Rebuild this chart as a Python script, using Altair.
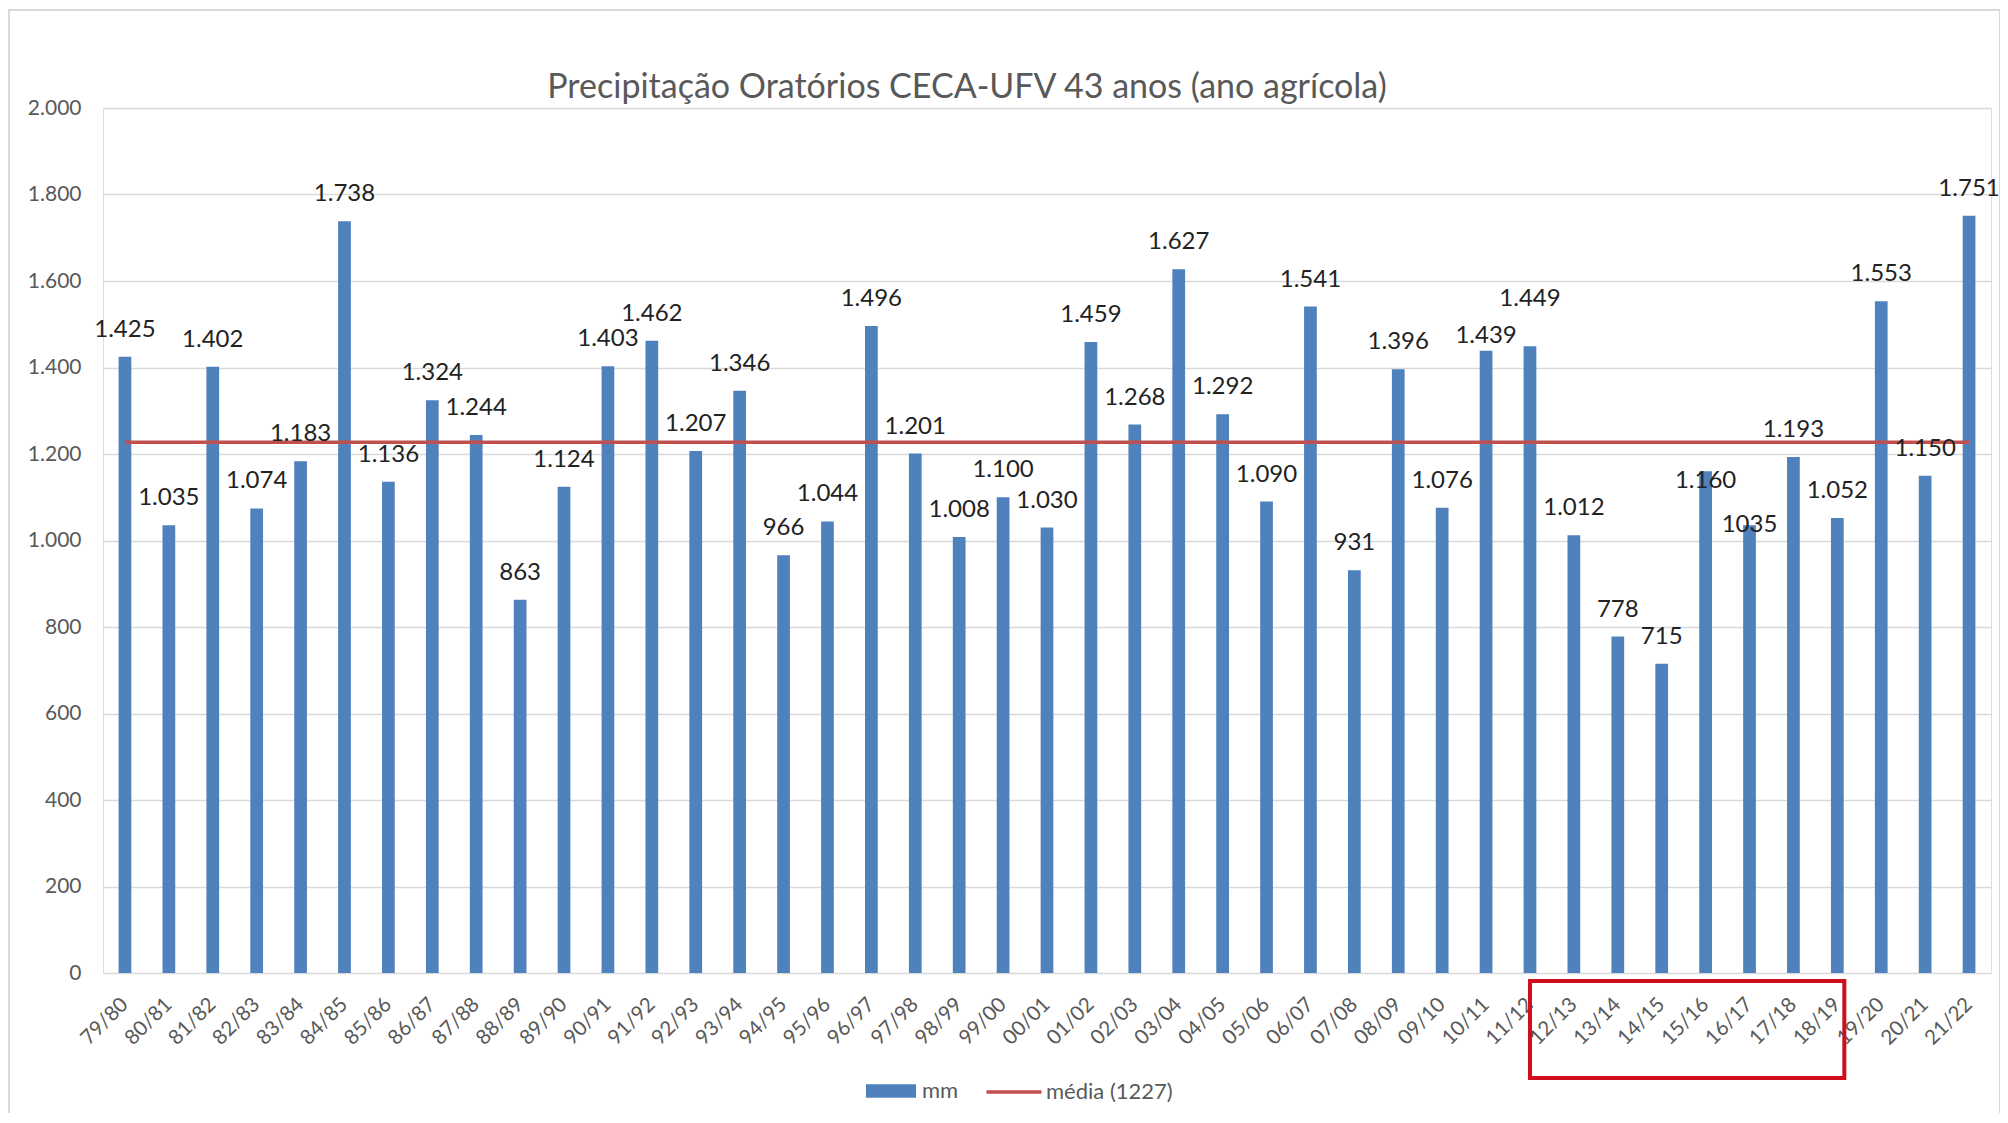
import altair as alt
import pandas as pd

# ---------------- data ----------------
SEASONS = ["79/80", "80/81", "81/82", "82/83", "83/84", "84/85", "85/86", "86/87",
           "87/88", "88/89", "89/90", "90/91", "91/92", "92/93", "93/94", "94/95",
           "95/96", "96/97", "97/98", "98/99", "99/00", "00/01", "01/02", "02/03",
           "03/04", "04/05", "05/06", "06/07", "07/08", "08/09", "09/10", "10/11",
           "11/12", "12/13", "13/14", "14/15", "15/16", "16/17", "17/18", "18/19",
           "19/20", "20/21", "21/22"]
MM = [1425, 1035, 1402, 1074, 1183, 1738, 1136, 1324,
      1244, 863, 1124, 1403, 1462, 1207, 1346, 966,
      1044, 1496, 1201, 1008, 1100, 1030, 1459, 1268,
      1627, 1292, 1090, 1541, 931, 1396, 1076, 1439,
      1449, 1012, 778, 715, 1160, 1035, 1193, 1052,
      1553, 1150, 1751]
LABELS = ["1.425", "1.035", "1.402", "1.074", "1.183", "1.738", "1.136", "1.324",
          "1.244", "863", "1.124", "1.403", "1.462", "1.207", "1.346", "966",
          "1.044", "1.496", "1.201", "1.008", "1.100", "1.030", "1.459", "1.268",
          "1.627", "1.292", "1.090", "1.541", "931", "1.396", "1.076", "1.439",
          "1.449", "1.012", "778", "715", "1.160", "1035", "1.193", "1.052",
          "1.553", "1.150", "1.751"]
MEDIA = 1227
Y_TICKS = [0, 200, 400, 600, 800, 1000, 1200, 1400, 1600, 1800, 2000]
SERIES_BAR = "mm"
SERIES_LINE = f"média ({MEDIA})"
TITLE = "Precipitação Oratórios CECA-UFV 43 anos (ano agrícola)"
BOX_FROM = "12/13"
BOX_TO = "18/19"

# ---------------- style ----------------
W, H = 1888, 865
BLUE = "#4F81BD"
RED = "#C0504D"
BOX_RED = "#D10F1C"
GRAY_TXT = "#595959"
GRID = "#D9D9D9"
FONT = "Lato"
LABEL_DY_DEFAULT = -20
# labels that were moved by hand in the original chart (vertical offset, px)
LABEL_DY_MOVED = {"10/11": -8, "11/12": -40, "15/16": 17, "16/17": 7}

df_bar = pd.DataFrame({"ano": SEASONS, "mm": MM, "rotulo": LABELS, "serie": SERIES_BAR})
df_line = pd.DataFrame({"ano": SEASONS, "media": [MEDIA] * len(SEASONS), "serie": SERIES_LINE})
df_box = pd.DataFrame({"de": [BOX_FROM], "ate": [BOX_TO]})
df_one = pd.DataFrame({"k": [0]})

x_scale = alt.Scale(domain=SEASONS, paddingInner=0.71, paddingOuter=0.355)
y_scale = alt.Scale(domain=[0, 2000], nice=False)

x_axis = alt.Axis(title=None, labelAngle=-45, labelAlign="right", labelBaseline="middle",
                  labelPadding=28, ticks=False, tickSize=0, domain=False, grid=False,
                  labelOverlap=False, labelFont=FONT, labelFontSize=20.5, labelColor=GRAY_TXT)
y_axis = alt.Axis(title=None, values=Y_TICKS,
                  labelExpr="replace(format(datum.value, ','), ',', '.')",
                  ticks=False, tickSize=0, domain=False, grid=True, gridColor=GRID,
                  gridWidth=1.5, labelPadding=22, labelFont=FONT, labelFontSize=21,
                  labelColor=GRAY_TXT)

leg_common = dict(title=None, orient="none", direction="horizontal", symbolSize=2500,
                  labelFont=FONT, labelFontSize=22, labelColor=GRAY_TXT, labelOffset=5)
legend_bar = alt.Legend(legendX=762, legendY=957, symbolType="M-1,-0.27H1V0.27H-1Z",
                        **leg_common)
legend_line = alt.Legend(legendX=884, legendY=957, symbolType="M-1.1,0H1.1",
                         symbolStrokeWidth=3.5, **leg_common)

x_enc = alt.X("ano:N", scale=x_scale, axis=x_axis, sort=None)

bars = alt.Chart(df_bar).mark_bar().encode(
    x=x_enc,
    y=alt.Y("mm:Q", scale=y_scale, axis=y_axis),
    fill=alt.Fill("serie:N", scale=alt.Scale(domain=[SERIES_BAR], range=[BLUE]),
                  legend=legend_bar),
)

line = alt.Chart(df_line).mark_line(strokeWidth=3.6).encode(
    x=alt.X("ano:N", sort=None),
    y=alt.Y("media:Q"),
    stroke=alt.Stroke("serie:N", scale=alt.Scale(domain=[SERIES_LINE], range=[RED]),
                      legend=legend_line),
)


def label_layer(dy, flt):
    return alt.Chart(df_bar).transform_filter(flt).mark_text(
        dy=dy, baseline="alphabetic", font=FONT, fontSize=24, color="#222222"
    ).encode(
        x=alt.X("ano:N", sort=None),
        y=alt.Y("mm:Q"),
        text=alt.Text("rotulo:N"),
    )


moved = list(LABEL_DY_MOVED.keys())
label_layers = [label_layer(LABEL_DY_DEFAULT,
                            alt.FieldOneOfPredicate(field="ano", oneOf=[s for s in SEASONS if s not in moved]))]
for season, dy in LABEL_DY_MOVED.items():
    label_layers.append(label_layer(dy, alt.FieldEqualPredicate(field="ano", equal=season)))

step = W / len(SEASONS)
box = alt.Chart(df_box).mark_rect(
    fill="transparent", stroke=BOX_RED, strokeWidth=4,
    xOffset=-step, x2Offset=7,
).encode(
    x=alt.X("de:N", bandPosition=0.5),
    x2=alt.X2("ate", bandPosition=0.5),
    y=alt.value(H + 8),
    y2=alt.value(H + 105),
)

frame = alt.Chart(df_one).mark_rect(fill="transparent", stroke=GRID, strokeWidth=2).encode(
    x=alt.value(-94), x2=alt.value(W + 9), y=alt.value(-98), y2=alt.value(H + 200),
)

chart = alt.layer(frame, bars, line, *label_layers, box).resolve_scale(
    fill="independent", stroke="independent"
).properties(
    width=W, height=H,
    title=alt.TitleParams(TITLE, font=FONT, fontSize=34, fontWeight="normal", color=GRAY_TXT,
                          anchor="middle", dx=-80, dy=135, baseline="alphabetic", offset=12,
                          frame="group"),
    autosize=alt.AutoSizeParams(type="none"),
    padding={"left": 95, "top": 100, "right": 9, "bottom": 140},
).configure_view(stroke=None).configure(background="white")

chart.save("out.html", embed_options={"renderer": "svg", "actions": False})
